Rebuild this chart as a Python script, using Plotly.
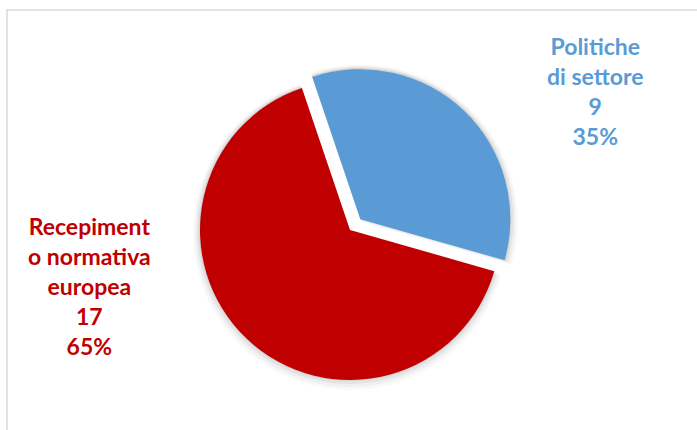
import plotly.graph_objects as go

categories = ["Politiche di settore", "Recepimento normativa europea"]
label_lines = [["Politiche", "di settore"], ["Recepiment", "o normativa", "europea"]]
values = [9, 17]
colors = ["#5B9BD5", "#C00000"]
pulls = [0.1, 0]

W, H = 697, 430
cx, cy, r = 350, 230, 150
maxpull = max(pulls)

def dom(cx, cy, r):
    half = r * (1 + maxpull)
    return dict(x=[(cx - half) / W, (cx + half) / W],
                y=[1 - (cy + half) / H, 1 - (cy - half) / H])

fig = go.Figure()
# soft shadow layers
for dr, dy, a in [(7, 3, 0.025), (5, 2, 0.035), (3, 1, 0.05), (1, 0, 0.07)]:
    fig.add_trace(go.Pie(
        labels=categories, values=values, sort=False, direction="clockwise",
        rotation=-18.7, pull=pulls, domain=dom(cx, cy + dy, r + dr),
        marker=dict(colors=[f"rgba(0,0,0,{a})"] * 2, line=dict(width=0)),
        textinfo="none", hoverinfo="skip", showlegend=False))

fig.add_trace(go.Pie(
    labels=categories, values=values, sort=False, direction="clockwise",
    rotation=-18.7, pull=pulls, domain=dom(cx, cy, r),
    marker=dict(colors=colors, line=dict(width=0)),
    textinfo="none", showlegend=False))

total = sum(values)
label_pos = [(595, 91), (89, 286)]
for lines, v, c, (x, y) in zip(label_lines, values, colors, label_pos):
    txt = "<br>".join(lines + [str(v), f"{round(100 * v / total)}%"])
    fig.add_annotation(x=x / W, y=1 - y / H, xref="paper", yref="paper",
                       text=txt, showarrow=False, align="center",
                       xanchor="center", yanchor="middle",
                       font=dict(family="Lato", size=23, color=c, weight="bold"))

fig.add_shape(type="rect", xref="paper", yref="paper",
              x0=7 / W, x1=1.05, y0=-0.05, y1=1 - 10 / H,
              line=dict(color="#d9d9d9", width=1.5))

fig.update_layout(width=W, height=H, margin=dict(l=0, r=0, t=0, b=0),
                  paper_bgcolor="white", plot_bgcolor="white")
fig.write_html("out.html", config={"displayModeBar": False},
               post_script="document.body.style.margin='0';")
